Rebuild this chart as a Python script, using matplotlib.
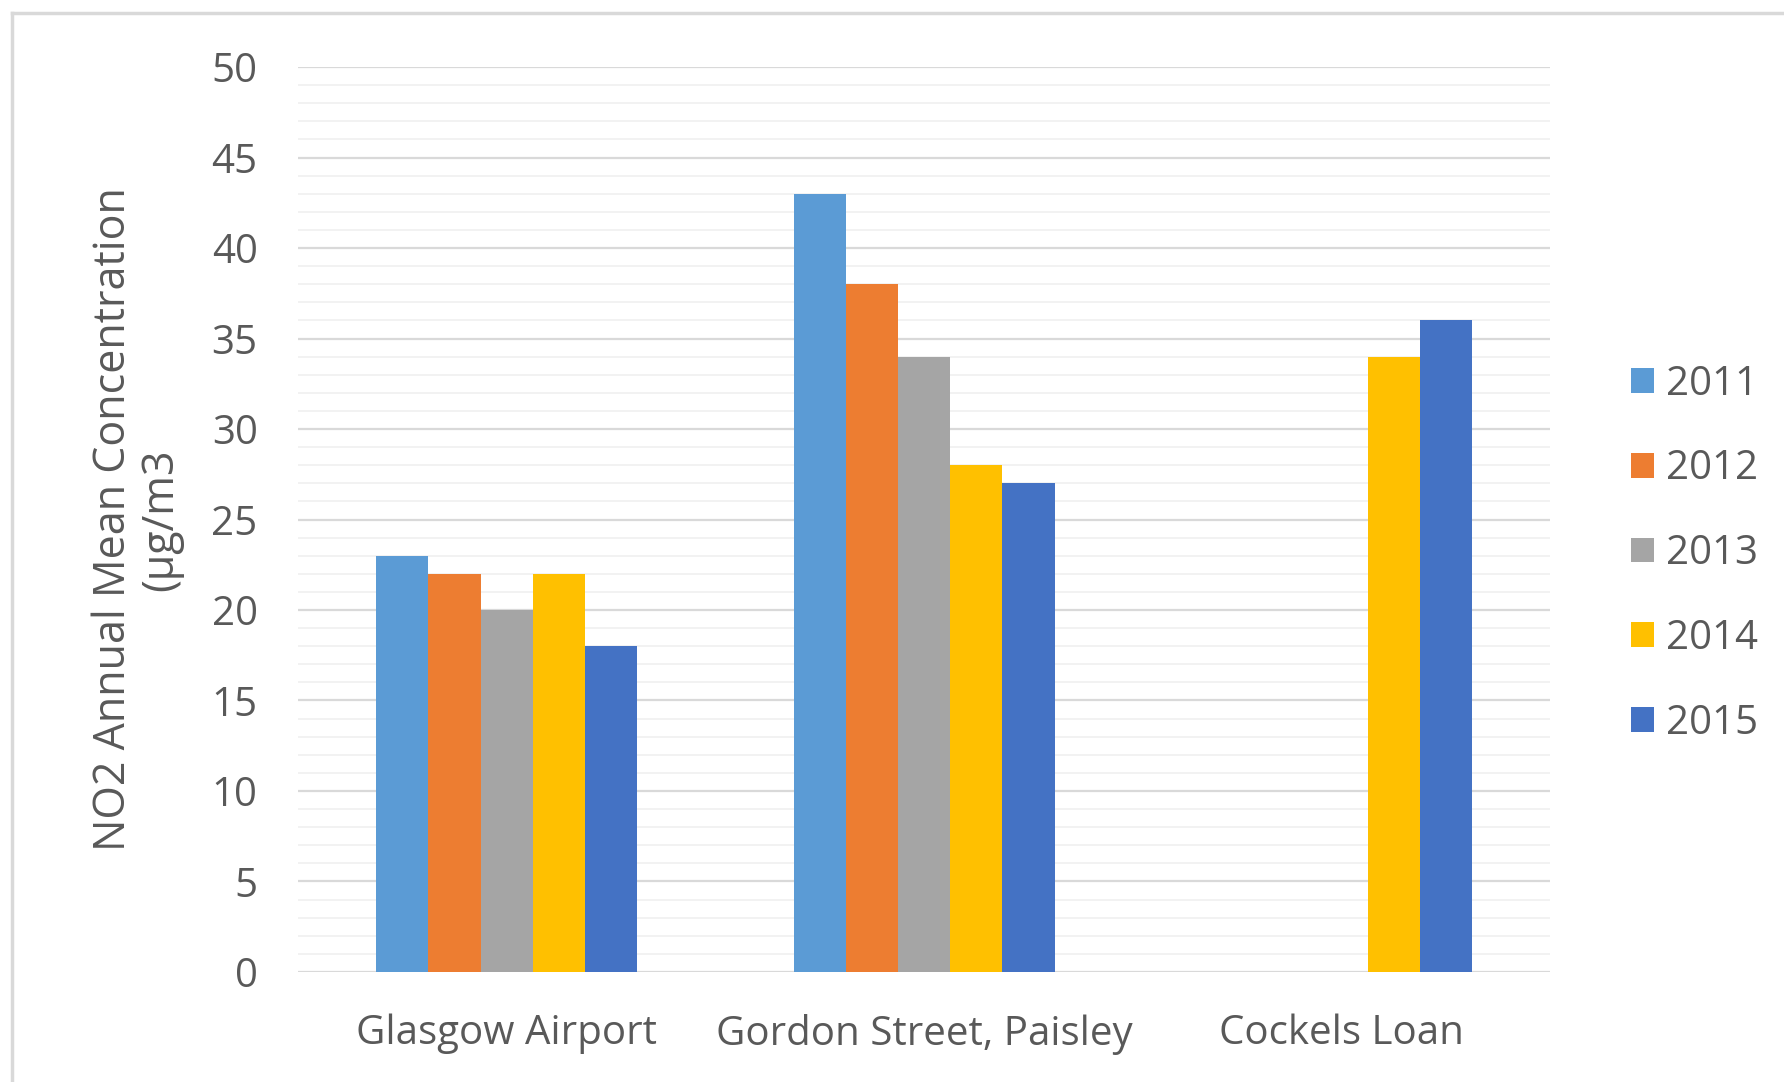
import numpy as np
import matplotlib
matplotlib.use("Agg")
import matplotlib.pyplot as plt
from matplotlib.lines import Line2D
from matplotlib.ticker import MultipleLocator

# data
sites = ["Glasgow Airport", "Gordon Street, Paisley", "Cockels Loan"]
years = ["2011", "2012", "2013", "2014", "2015"]
no2_2011 = [23, 43, np.nan]
no2_2012 = [22, 38, np.nan]
no2_2013 = [20, 34, np.nan]
no2_2014 = [22, 28, 34]
no2_2015 = [18, 27, 36]
colors = ["#5B9BD5", "#ED7D31", "#A5A5A5", "#FFC000", "#4472C4"]

plt.rcParams["font.family"] = ["Open Sans", "DejaVu Sans"]
text_col = "#595959"

fig = plt.figure(figsize=(17.84, 10.82), dpi=100)
ax = fig.add_axes([0.167, 0.1017, 0.702, 0.8363])

series = [no2_2011, no2_2012, no2_2013, no2_2014, no2_2015]
x = np.arange(len(sites))
w = 0.125
for i, (vals, yr, c) in enumerate(zip(series, years, colors)):
    ax.bar(x + (i - 2) * w, vals, width=w, color=c, label=yr, zorder=3)

ax.set_xlim(-0.5, 2.5)
ax.set_ylim(0, 50)
ax.yaxis.set_major_locator(MultipleLocator(5))
ax.yaxis.set_minor_locator(MultipleLocator(1))
ax.grid(axis="y", which="major", color="#d9d9d9", lw=1.6, zorder=0)
ax.grid(axis="y", which="minor", color="#f0f0f0", lw=1.2, zorder=0)
ax.set_axisbelow(True)
for s in ax.spines.values():
    s.set_visible(False)
ax.tick_params(axis="both", which="both", length=0, labelsize=29, colors=text_col)
ax.tick_params(axis="y", pad=29)
ax.tick_params(axis="x", pad=30)
ax.set_xticks(x)
ax.set_xticklabels(sites)
ax.set_ylabel("NO2 Annual Mean Concentration\n(\u00b5g/m3", fontsize=31, color=text_col, labelpad=20, linespacing=1.1)

ax.legend(loc="center left", bbox_to_anchor=(0.905, 0.488), bbox_transform=fig.transFigure,
          frameon=False, fontsize=29, labelcolor=text_col, handlelength=0.57, handleheight=0.57,
          handletextpad=0.3, labelspacing=1.1, borderaxespad=0)

# outer chart frame (left and top edges only visible)
fig.add_artist(Line2D([12 / 1784, 12 / 1784], [0, 1 - 13 / 1082], color="#d9d9d9", lw=2.5))
fig.add_artist(Line2D([12 / 1784, 1], [1 - 13 / 1082, 1 - 13 / 1082], color="#d9d9d9", lw=2.5))

fig.savefig("out.png", dpi=100)
